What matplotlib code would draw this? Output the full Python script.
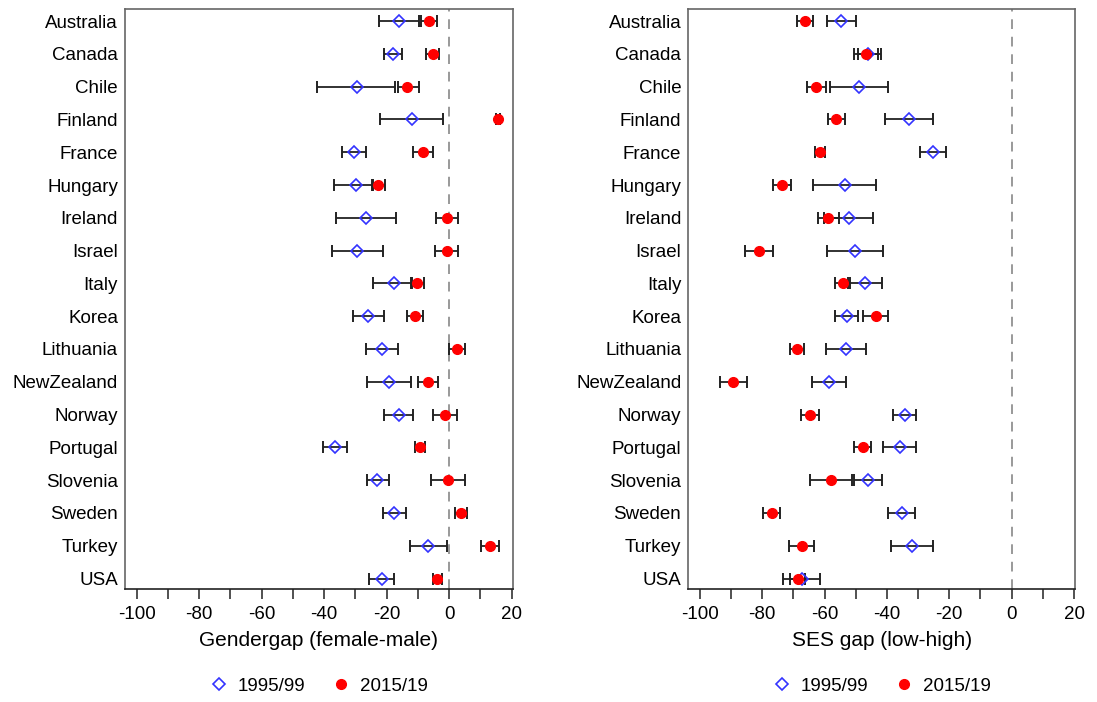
import matplotlib
matplotlib.use('Agg')
import matplotlib.pyplot as plt
from matplotlib.lines import Line2D
from matplotlib.ticker import MultipleLocator

plt.rcParams['font.family'] = ['Liberation Sans', 'DejaVu Sans']
plt.rcParams['axes.unicode_minus'] = False

countries = ['Australia', 'Canada', 'Chile', 'Finland', 'France', 'Hungary', 'Ireland', 'Israel',
             'Italy', 'Korea', 'Lithuania', 'NewZealand', 'Norway', 'Portugal', 'Slovenia',
             'Sweden', 'Turkey', 'USA']

# Gender gap (female-male)
gender_9599 = [-16.0, -18.1, -29.4, -11.9, -30.5, -29.8, -26.6, -29.6, -17.7, -25.9, -21.6, -19.2, -16.2, -36.5, -23.0, -17.6, -6.7, -21.6]
gender_9599_lo = [-22.4, -20.8, -42.2, -22.1, -34.4, -36.8, -36.2, -37.6, -24.3, -30.9, -26.7, -26.4, -20.8, -40.3, -26.2, -21.2, -12.5, -25.7]
gender_9599_hi = [-9.7, -15.2, -17.3, -1.9, -26.6, -24.3, -17.0, -21.3, -12.2, -20.8, -16.5, -12.2, -11.5, -32.8, -19.4, -13.8, -0.8, -17.7]
gender_1519 = [-6.4, -5.3, -13.6, 15.7, -8.5, -22.7, -0.6, -0.8, -10.4, -10.9, 2.4, -6.7, -1.3, -9.3, -0.5, 3.8, 13.1, -3.8]
gender_1519_lo = [-9.0, -7.4, -16.5, 15.0, -11.5, -24.6, -4.3, -4.5, -11.9, -13.4, 0.0, -9.9, -5.1, -10.9, -5.9, 2.0, 10.1, -5.1]
gender_1519_hi = [-4.0, -3.2, -9.7, 16.4, -5.1, -20.5, 2.9, 2.9, -8.2, -8.5, 5.1, -3.5, 2.4, -7.7, 5.1, 5.7, 16.0, -2.4]

# SES gap (low-high)
ses_9599 = [-54.7, -46.2, -49.1, -33.0, -25.3, -53.6, -52.3, -50.1, -47.0, -52.8, -53.1, -58.6, -34.3, -35.9, -46.0, -35.1, -31.9, -67.3]
ses_9599_lo = [-59.2, -49.3, -58.3, -40.7, -29.5, -63.8, -60.2, -59.1, -52.5, -56.7, -59.4, -64.1, -38.1, -41.1, -50.7, -39.6, -38.8, -71.2]
ses_9599_hi = [-49.9, -41.8, -39.7, -25.3, -20.9, -43.6, -44.4, -41.2, -41.5, -49.4, -46.7, -53.1, -30.6, -30.6, -41.5, -30.9, -25.1, -61.5]
ses_1519 = [-66.2, -46.7, -62.6, -56.2, -61.5, -73.8, -58.9, -81.0, -54.1, -43.6, -68.9, -89.2, -64.7, -47.7, -58.0, -77.0, -67.3, -68.6]
ses_1519_lo = [-68.7, -50.6, -65.7, -58.9, -63.1, -76.6, -62.2, -85.4, -56.7, -47.8, -71.2, -93.5, -67.6, -50.4, -64.7, -79.6, -71.5, -73.4]
ses_1519_hi = [-63.8, -43.0, -59.4, -53.6, -59.9, -70.8, -55.5, -76.5, -51.7, -39.6, -66.5, -85.0, -61.7, -45.2, -51.2, -74.4, -63.3, -66.2]

panels = [
    ('Gendergap (female-male)', gender_9599, gender_9599_lo, gender_9599_hi,
     gender_1519, gender_1519_lo, gender_1519_hi),
    ('SES gap (low-high)', ses_9599, ses_9599_lo, ses_9599_hi,
     ses_1519, ses_1519_lo, ses_1519_hi),
]

fig = plt.figure(figsize=(10.97, 7.02), dpi=100)
ax_left = fig.add_axes([0.1139, 0.1605, 0.3537, 0.8263])
ax_right = fig.add_axes([0.6274, 0.1605, 0.3528, 0.8263])

y = list(range(len(countries)))

for ax, (xlabel, old, old_lo, old_hi, new, new_lo, new_hi) in zip([ax_left, ax_right], panels):
    ax.axvline(0, color='#999999', lw=1.4, ls=(0, (5, 4)), zorder=1)

    old_err = [[m - lo for m, lo in zip(old, old_lo)], [hi - m for m, hi in zip(old, old_hi)]]
    new_err = [[m - lo for m, lo in zip(new, new_lo)], [hi - m for m, hi in zip(new, new_hi)]]
    ax.errorbar(old, y, xerr=old_err, fmt='none', ecolor='#222222', elinewidth=1.3,
                capsize=4, capthick=1.4, zorder=2)
    ax.errorbar(new, y, xerr=new_err, fmt='none', ecolor='#222222', elinewidth=1.3,
                capsize=4, capthick=1.4, zorder=2)
    ax.plot(old, y, ls='none', marker='D', ms=6, mfc='none', mec='#3333ff', mew=1.2, zorder=3)
    ax.plot(new, y, ls='none', marker='o', ms=7, mfc='red', mec='red', zorder=4)

    ax.set_xlim(-103.7, 20.4)
    ax.set_ylim(len(countries) - 1 + 0.33, -0.36)
    ax.set_yticks(y)
    ax.set_yticklabels(countries, fontsize=13.5)
    ax.tick_params(axis='y', length=0, pad=5)
    ax.xaxis.set_major_locator(MultipleLocator(20))
    ax.xaxis.set_minor_locator(MultipleLocator(10))
    ax.tick_params(axis='x', which='both', length=7, width=1.1, labelsize=13.5, pad=5, color='#222222')
    ax.set_xlabel(xlabel, fontsize=15, labelpad=6)

    for side in ['top', 'left', 'right']:
        ax.spines[side].set_color('#666666')
        ax.spines[side].set_linewidth(1.2)
    ax.spines['bottom'].set_color('#222222')
    ax.spines['bottom'].set_linewidth(1.2)

    handles = [
        Line2D([], [], ls='none', marker='D', ms=6, mfc='none', mec='#3333ff', mew=1.2),
        Line2D([], [], ls='none', marker='o', ms=7, mfc='red', mec='red'),
    ]
    ax.legend(handles, ['1995/99', '2015/19'], loc='center', bbox_to_anchor=(0.5, -0.167),
              ncol=2, frameon=False, fontsize=13.5, handlelength=1.0, handletextpad=0.5,
              columnspacing=1.4)

fig.savefig('out.png', dpi=100)
